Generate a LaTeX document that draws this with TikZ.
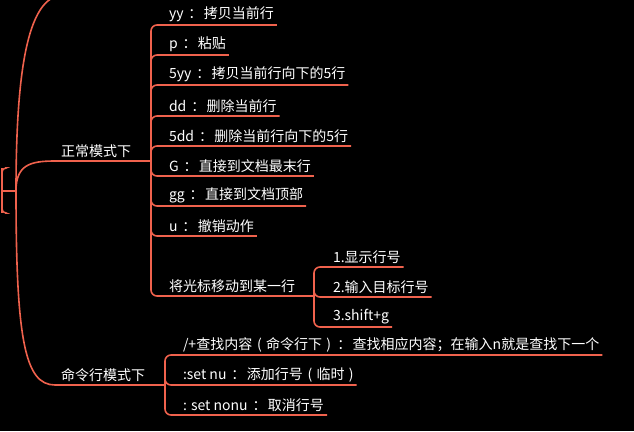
\documentclass[tikz,border=0pt]{standalone}
\usepackage{fontspec}
\setmainfont{Noto Sans CJK SC}
\newcommand{\cl}{\hspace{0.35em}：\hspace{0.1em}}
\newcommand{\lp}{\hspace{0.35em}(\hspace{0.3em}}
\newcommand{\rp}{\hspace{0.3em})\hspace{0.1em}}
\begin{document}
\begin{tikzpicture}[x=1pt,y=-1pt,
  ln/.style={draw=lc,line width=1.6pt,rounded corners=6pt},
  leaf/.style={text=white,font=\fontsize{14}{15}\selectfont,anchor=south west,inner sep=0pt,inner xsep=3pt,outer sep=0pt,yshift=3pt}]
\definecolor{lc}{HTML}{F0624D}
\fill[black] (0,0) rectangle (634,431);
\useasboundingbox (0,0) rectangle (634,431);
% root
\coordinate (r) at (16,191);
\draw[ln,rounded corners=4pt] (16,191) -- (2,191) (5,168) -| (2,213) -- (5,213);
\draw[lc,line width=1.6pt] (2,168) -- (2,213);
\coordinate (top) at (52,-2);
\draw[lc,line width=1.6pt] (r) .. controls (16,70) and (28,12) .. (top);
% normal mode
\node[leaf] (nm) at (58,161) {正常模式下};
\coordinate (nt) at (151,161);
\draw[lc,line width=1.6pt] (r) .. controls (16,165) and (30,161) .. (55,161) -- (nt);
\node[leaf] (a1) at (166,25) {yy\cl 拷贝当前行};
\node[leaf] (a2) at (166,55) {p\cl 粘贴};
\node[leaf] (a3) at (166,85) {5yy\cl 拷贝当前行向下的5行};
\node[leaf] (a4) at (166,116) {dd\cl 删除当前行};
\node[leaf] (a5) at (166,146) {5dd\cl 删除当前行向下的5行};
\node[leaf] (a6) at (166,176) {G\cl 直接到文档最末行};
\node[leaf] (a7) at (166,206) {gg\cl 直接到文档顶部};
\node[leaf] (a8) at (166,236) {u\cl 撤销动作};
\node[leaf] (a9) at (166,296) {将光标移动到某一行};
\foreach \n in {a1,a2,a3,a4,a5,a6,a7,a8,a9}
  \draw[ln] (nt) |- ([yshift=-3pt]\n.south east);
% goto line
\coordinate (gt) at (314,296);
\draw[lc,line width=1.6pt] ([yshift=-3pt]a9.south east) -- (gt);
\node[leaf] (b1) at (330,267) {1.显示行号};
\node[leaf] (b2) at (330,297) {2.输入目标行号};
\node[leaf] (b3) at (330,327) {3.shift+g};
\foreach \n in {b1,b2,b3}
  \draw[ln] (gt) |- ([yshift=-3pt]\n.south east);
% command mode
\node[leaf] (cm) at (58,385) {命令行模式下};
\coordinate (ct) at (165,385);
\draw[lc,line width=1.6pt] (r) .. controls (16,340) and (25,385) .. (55,385) -- (ct);
\node[leaf] (c1) at (180,355) {/+查找内容\lp 命令行下\rp\cl 查找相应内容；在输入n就是查找下一个};
\node[leaf] (c2) at (180,385) {:set nu\cl 添加行号\lp 临时\rp};
\node[leaf] (c3) at (180,415) {: set nonu\cl 取消行号};
\foreach \n in {c1,c2,c3}
  \draw[ln] (ct) |- ([yshift=-3pt]\n.south east);
\end{tikzpicture}
\end{document}
